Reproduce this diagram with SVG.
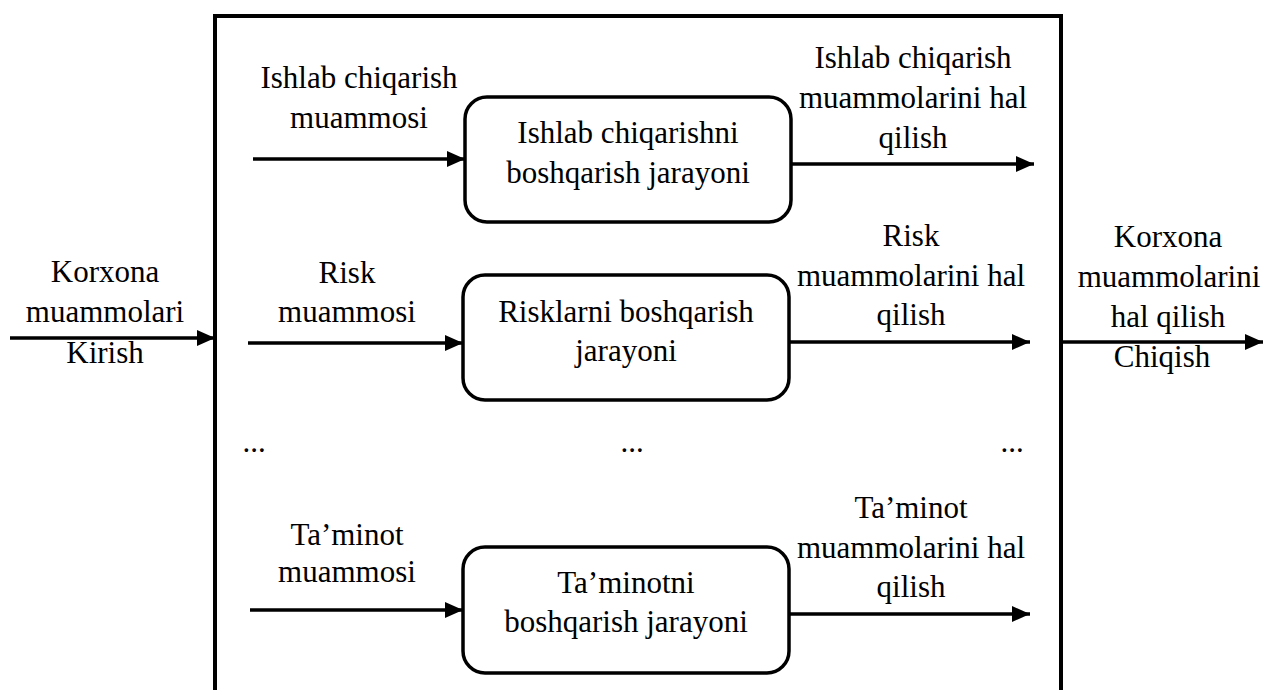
<svg xmlns="http://www.w3.org/2000/svg" width="1267" height="690" viewBox="0 0 1267 690">
  <style>
    text { font-family: "Liberation Serif", "Times New Roman", serif; font-size: 31px; fill: #000; text-anchor: middle; }
    .proc { fill: #fff; stroke: #000; stroke-width: 3.5; }
    .frame { fill: none; stroke: #000; stroke-width: 4; }
    .flow { fill: none; stroke: #000; stroke-width: 3.5; }
  </style>
  <defs>
    <marker id="arrow" markerUnits="userSpaceOnUse" viewBox="0 0 18 16" markerWidth="18" markerHeight="16" refX="18" refY="8" orient="auto">
      <path d="M0,0 L18,8 L0,16 Z" fill="#000"/>
    </marker>
  </defs>
  <rect width="1267" height="690" fill="#fff"/>

  <!-- enterprise boundary (open at the bottom) -->
  <g id="enterprise">
    <path class="frame" d="M215,690 V16 H1061 V690"/>
  </g>

  <!-- process blocks -->
  <g id="production-process">
    <rect class="proc" x="465" y="97" width="326" height="125" rx="22"/>
    <text x="628" y="143">Ishlab chiqarishni</text>
    <text x="628" y="183">boshqarish jarayoni</text>
  </g>
  <g id="risk-process">
    <rect class="proc" x="463" y="275" width="326" height="125" rx="22"/>
    <text x="626" y="322">Risklarni boshqarish</text>
    <text x="626" y="361">jarayoni</text>
  </g>
  <g id="supply-process">
    <rect class="proc" x="463" y="547" width="326" height="126" rx="22"/>
    <text x="626" y="593">Ta’minotni</text>
    <text x="626" y="632">boshqarish jarayoni</text>
  </g>

  <!-- connectors -->
  <g id="connectors">
    <path class="flow" marker-end="url(#arrow)" d="M10,338 H215"/>
    <path class="flow" marker-end="url(#arrow)" d="M1061,342 H1263"/>
    <path class="flow" marker-end="url(#arrow)" d="M253,159 H465"/>
    <path class="flow" marker-end="url(#arrow)" d="M791,164 H1034"/>
    <path class="flow" marker-end="url(#arrow)" d="M248,343 H463"/>
    <path class="flow" marker-end="url(#arrow)" d="M789,342 H1030"/>
    <path class="flow" marker-end="url(#arrow)" d="M250,610 H463"/>
    <path class="flow" marker-end="url(#arrow)" d="M789,614 H1030"/>
  </g>

  <!-- flow labels -->
  <g id="input-label">
    <text x="105" y="282">Korxona</text>
    <text x="105" y="322">muammolari</text>
    <text x="105" y="363">Kirish</text>
  </g>
  <g id="output-label">
    <text x="1168" y="247">Korxona</text>
    <text x="1169" y="287">muammolarini</text>
    <text x="1168" y="327">hal qilish</text>
    <text x="1162" y="367">Chiqish</text>
  </g>
  <g id="production-labels">
    <text x="359" y="88">Ishlab chiqarish</text>
    <text x="359" y="128">muammosi</text>
    <text x="913" y="68">Ishlab chiqarish</text>
    <text x="913" y="108">muammolarini hal</text>
    <text x="913" y="148">qilish</text>
  </g>
  <g id="risk-labels">
    <text x="347" y="283">Risk</text>
    <text x="347" y="322">muammosi</text>
    <text x="911" y="246">Risk</text>
    <text x="911" y="286">muammolarini hal</text>
    <text x="911" y="325">qilish</text>
  </g>
  <g id="supply-labels">
    <text x="347" y="545">Ta’minot</text>
    <text x="347" y="582">muammosi</text>
    <text x="911" y="518">Ta’minot</text>
    <text x="911" y="558">muammolarini hal</text>
    <text x="911" y="597">qilish</text>
  </g>
  <g id="ellipses">
    <text x="254" y="452">...</text>
    <text x="632" y="452">...</text>
    <text x="1012" y="452">...</text>
  </g>
</svg>
